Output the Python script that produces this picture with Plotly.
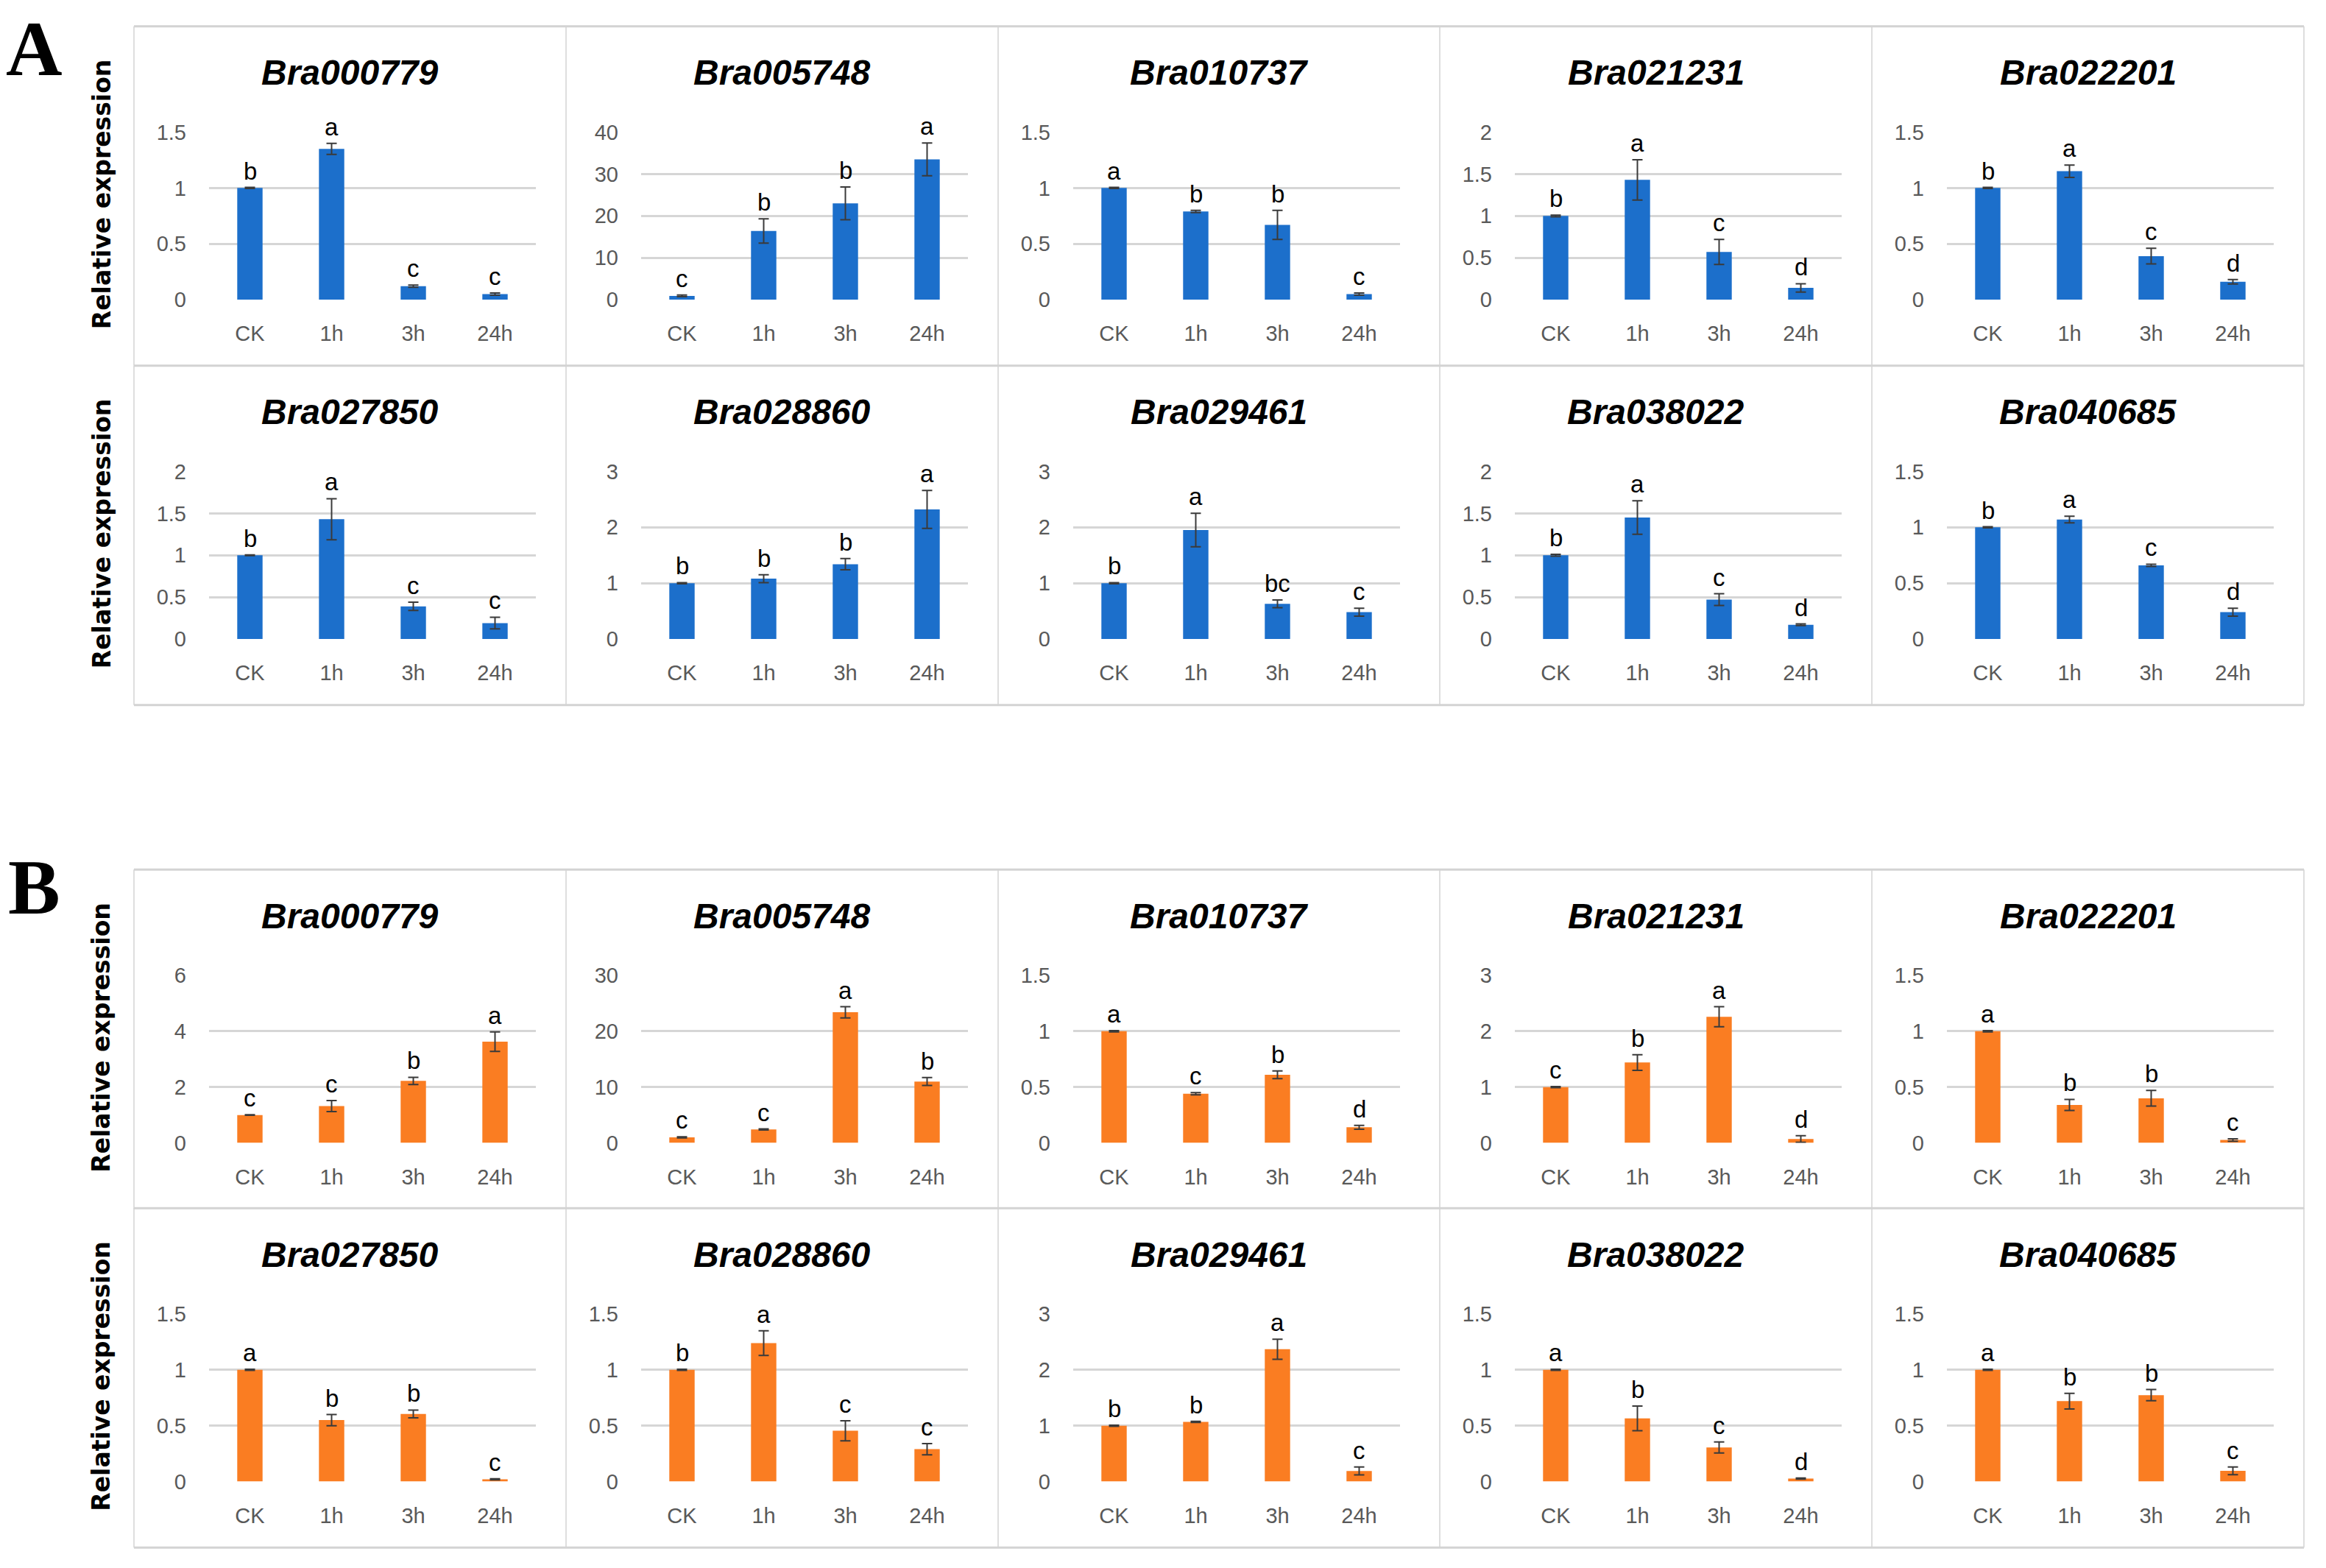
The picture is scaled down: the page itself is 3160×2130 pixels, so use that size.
import plotly.graph_objects as go

# ---------------- data ----------------
genes = ["Bra000779", "Bra005748", "Bra010737", "Bra021231", "Bra022201",
         "Bra027850", "Bra028860", "Bra029461", "Bra038022", "Bra040685"]
timepoints = ["CK", "1h", "3h", "24h"]

A_values = [
    [1.0, 1.35, 0.12, 0.05],
    [0.9, 16.4, 23.0, 33.5],
    [1.0, 0.79, 0.67, 0.05],
    [1.0, 1.43, 0.57, 0.14],
    [1.0, 1.15, 0.39, 0.16],
    [1.0, 1.43, 0.39, 0.19],
    [1.0, 1.08, 1.34, 2.32],
    [1.0, 1.95, 0.63, 0.48],
    [1.0, 1.45, 0.47, 0.17],
    [1.0, 1.07, 0.66, 0.24],
]
A_errors = [
    [0.005, 0.05, 0.01, 0.01],
    [0.2, 2.9, 3.9, 3.9],
    [0.005, 0.01, 0.13, 0.01],
    [0.01, 0.24, 0.15, 0.05],
    [0.005, 0.055, 0.07, 0.02],
    [0.005, 0.245, 0.05, 0.07],
    [0.01, 0.07, 0.1, 0.34],
    [0.01, 0.3, 0.07, 0.07],
    [0.01, 0.2, 0.07, 0.01],
    [0.005, 0.03, 0.01, 0.035],
]
A_letters = [
    ["b", "a", "c", "c"], ["c", "b", "b", "a"], ["a", "b", "b", "c"],
    ["b", "a", "c", "d"], ["b", "a", "c", "d"], ["b", "a", "c", "c"],
    ["b", "b", "b", "a"], ["b", "a", "bc", "c"], ["b", "a", "c", "d"],
    ["b", "a", "c", "d"],
]
A_ymax = [1.5, 40, 1.5, 2, 1.5, 2, 3, 3, 2, 1.5]
A_dtick = [0.5, 10, 0.5, 0.5, 0.5, 0.5, 1, 1, 0.5, 0.5]

B_values = [
    [1.0, 1.32, 2.22, 3.63],
    [1.0, 2.4, 23.4, 11.0],
    [1.0, 0.44, 0.61, 0.14],
    [1.0, 1.44, 2.26, 0.07],
    [1.0, 0.34, 0.40, 0.026],
    [1.0, 0.55, 0.605, 0.02],
    [1.0, 1.24, 0.455, 0.29],
    [1.0, 1.07, 2.37, 0.19],
    [1.0, 0.566, 0.305, 0.026],
    [1.0, 0.72, 0.774, 0.096],
]
B_errors = [
    [0.01, 0.2, 0.13, 0.35],
    [0.1, 0.1, 1.0, 0.7],
    [0.005, 0.01, 0.035, 0.017],
    [0.01, 0.14, 0.18, 0.06],
    [0.005, 0.05, 0.07, 0.01],
    [0.005, 0.05, 0.035, 0.005],
    [0.005, 0.11, 0.09, 0.05],
    [0.01, 0.01, 0.18, 0.07],
    [0.005, 0.11, 0.05, 0.005],
    [0.005, 0.07, 0.05, 0.035],
]
B_letters = [
    ["c", "c", "b", "a"], ["c", "c", "a", "b"], ["a", "c", "b", "d"],
    ["c", "b", "a", "d"], ["a", "b", "b", "c"], ["a", "b", "b", "c"],
    ["b", "a", "c", "c"], ["b", "b", "a", "c"], ["a", "b", "c", "d"],
    ["a", "b", "b", "c"],
]
B_ymax = [6, 30, 1.5, 3, 1.5, 1.5, 1.5, 3, 1.5, 1.5]
B_dtick = [2, 10, 0.5, 1, 0.5, 0.5, 0.5, 1, 0.5, 0.5]

section_labels = ["A", "B"]
y_title = "Relative expression"

# ---------------- layout geometry (pixels) ----------------
W, H = 3160, 2130
col_edges = [182, 769, 1356, 1956, 2543, 3130]
row_tops = [20, 488, 1183, 1650]
row_h = 468
plot_left_off, plot_right_off = 102, 546
plot_top_off, plot_bot_off = 146, 377

BLUE = "#1c6fcb"
ORANGE = "#fa7d22"
GRID = "#d6d6d6"
TICK = "#595959"


def px(x):
    return x / W


def py(y):
    return 1 - y / H


fig = go.Figure()
layout = {}
annotations = []
shapes = []

sections = [
    (A_values, A_errors, A_letters, A_ymax, A_dtick, BLUE),
    (B_values, B_errors, B_letters, B_ymax, B_dtick, ORANGE),
]

k = 0
for s, (vals, errs, lets, ymaxs, dticks, color) in enumerate(sections):
    for g in range(len(genes)):
        k += 1
        r = s * 2 + g // 5
        c = g % 5
        L, R = col_edges[c], col_edges[c + 1]
        T = row_tops[r]
        xname = "x" if k == 1 else f"x{k}"
        yname = "y" if k == 1 else f"y{k}"
        xkey = "xaxis" if k == 1 else f"xaxis{k}"
        ykey = "yaxis" if k == 1 else f"yaxis{k}"

        fig.add_trace(go.Bar(
            x=timepoints, y=vals[g], xaxis=xname, yaxis=yname,
            marker=dict(color=color, line=dict(width=0)),
            error_y=dict(type="data", array=errs[g], symmetric=True,
                         color="#3a3a3a", thickness=2, width=7),
            showlegend=False, hoverinfo="skip",
        ))

        layout[xkey] = dict(
            domain=[px(L + plot_left_off), px(L + plot_right_off)],
            anchor=yname, showgrid=False, zeroline=False, showline=False,
            ticks="", tickfont=dict(family="Liberation Sans", size=29, color=TICK),
            ticklabelstandoff=26, fixedrange=True,
        )
        ticks_v = []
        v = 0.0
        while v <= ymaxs[g] + 1e-9:
            ticks_v.append(round(v, 6))
            v += dticks[g]
        layout[ykey] = dict(
            domain=[py(T + plot_bot_off), py(T + plot_top_off)],
            anchor=xname, range=[0, ymaxs[g]], tickvals=ticks_v,
            showgrid=True, gridcolor=GRID, gridwidth=3,
            zeroline=False, showline=False, ticks="",
            tickfont=dict(family="Liberation Sans", size=29, color=TICK),
            ticklabelstandoff=30, fixedrange=True,
        )

        # panel title
        annotations.append(dict(
            text=f"<b><i>{genes[g]}</i></b>", x=px((L + R) / 2), y=py(T + 64),
            xref="paper", yref="paper", showarrow=False,
            font=dict(family="Liberation Sans", size=48, color="black"),
            xanchor="center", yanchor="middle",
        ))
        # significance letters
        for i, tp in enumerate(timepoints):
            annotations.append(dict(
                text=lets[g][i], x=tp, y=vals[g][i] + errs[g][i],
                xref=xname, yref=yname, showarrow=False,
                font=dict(family="Liberation Sans", size=33, color="black"),
                xanchor="center", yanchor="bottom", yshift=2,
            ))
        # panel border
        shapes.append(dict(type="line", xref="paper", yref="paper",
                           x0=px(L), x1=px(L), y0=py(T), y1=py(T + row_h),
                           line=dict(color="#d3d3d3", width=1.5)))
        shapes.append(dict(type="line", xref="paper", yref="paper",
                           x0=px(L), x1=px(R), y0=py(T), y1=py(T),
                           line=dict(color="#d3d3d3", width=3)))
        if c == 4:
            shapes.append(dict(type="line", xref="paper", yref="paper",
                               x0=px(R), x1=px(R), y0=py(T), y1=py(T + row_h),
                               line=dict(color="#d3d3d3", width=1.5)))
        if r % 2 == 1:
            shapes.append(dict(type="line", xref="paper", yref="paper",
                               x0=px(L), x1=px(R), y0=py(T + row_h), y1=py(T + row_h),
                               line=dict(color="#d3d3d3", width=3)))

# y-axis titles per row
for r in range(4):
    annotations.append(dict(
        text=f"<b>{y_title}</b>", x=px(138), y=py(row_tops[r] + 232),
        xref="paper", yref="paper", showarrow=False, textangle=-90,
        font=dict(family="DejaVu Sans", size=33, color="black"),
        xanchor="center", yanchor="middle",
    ))

# section letters
for s, lab in enumerate(section_labels):
    annotations.append(dict(
        text=f"<b>{lab}</b>", x=px(46), y=py([51, 1208][s]),
        xref="paper", yref="paper", showarrow=False,
        font=dict(family="Liberation Serif", size=106, color="black"),
        xanchor="center", yanchor="middle",
    ))

fig.update_layout(
    width=W, height=H, margin=dict(l=0, r=0, t=0, b=0),
    paper_bgcolor="white", plot_bgcolor="white",
    bargap=0.69, annotations=annotations, shapes=shapes, **layout,
)

fig.write_html(
    "out.html",
    config={"displayModeBar": False, "staticPlot": True},
    post_script="document.body.style.margin='0';document.body.style.overflow='hidden';",
)
